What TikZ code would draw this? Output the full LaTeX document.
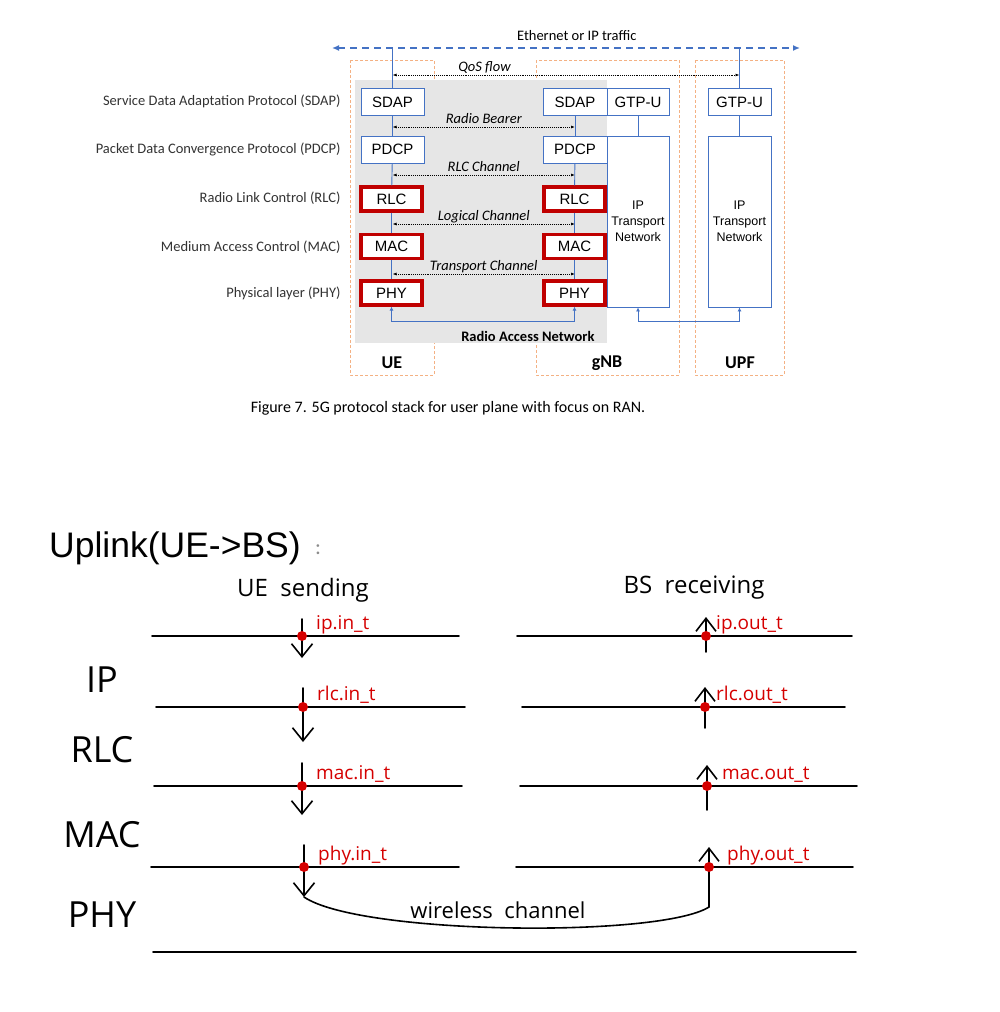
\documentclass[tikz,border=0pt]{standalone}
\usepackage{fontspec}
\setmainfont{Carlito}
\newfontfamily\arialfont{Liberation Sans}
\newfontfamily\handfont{Open Sans}
\usetikzlibrary{arrows.meta, calc}

\definecolor{msblue}{HTML}{4472C4}
\definecolor{msorange}{HTML}{F4B183}
\definecolor{msred}{HTML}{C00000}
\definecolor{ranGray}{HTML}{E6E6E6}
\definecolor{inkred}{HTML}{D50000}

\tikzset{
  layer/.style={draw=msblue, fill=white, line width=0.8pt, minimum width=63pt, minimum height=27pt, inner sep=0pt, font=\arialfont\fontsize{15}{15}\selectfont},
  redlayer/.style={layer, draw=msred, line width=3.2pt, minimum width=61pt, minimum height=24pt},
  ipnet/.style={layer, minimum width=62pt, minimum height=171pt, align=center, font=\arialfont\fontsize{12.5}{16}\selectfont},
  blueline/.style={draw=msblue, line width=0.9pt},
  ethline/.style={draw=msblue, line width=1.8pt, dash pattern=on 7pt off 5pt, {Latex[length=7pt,width=6pt]}-{Latex[length=7pt,width=6pt]}},
  chan/.style={densely dotted, line width=0.9pt, {Latex[length=4pt,width=3pt]}-{Latex[length=4pt,width=3pt]}},
  chanlab/.style={above, inner sep=1pt, text height=9pt, text depth=2pt, font=\itshape\fontsize{14.5}{17}\selectfont},
  nodebox/.style={draw=msorange, line width=1pt, dash pattern=on 3pt off 2pt},
  rowlab/.style={anchor=east, text=black!80},
  hand/.style={line width=1.6pt, line cap=round},
  handdown/.style={hand, -{Straight Barb[length=13pt, width=21pt]}},
  handup/.style={hand, -{Straight Barb[length=13pt, width=20pt]}},
  stamp/.style={circle, fill=inkred, minimum size=10pt, inner sep=0pt},
  stamplab/.style={anchor=base west, inner sep=0pt, text=inkred, font=\handfont\fontsize{19}{19}\selectfont},
  handlab/.style={font=\handfont\fontsize{24}{24}\selectfont},
  layerlab/.style={font=\handfont\fontsize{36}{36}\selectfont},
}

\begin{document}
\begin{tikzpicture}[x=1pt, y=-1pt, >=latex, font=\fontsize{14.5}{17}\selectfont]

    \fill[white] (0,0) rectangle (1000,1012);
    \useasboundingbox (0,0) rectangle (1000,1012);

    % 1. Network elements and RAN area
    \draw[nodebox] (350,60) rectangle (434,375);
    \draw[nodebox] (536,60) rectangle (679,375);
    \draw[nodebox] (695,60) rectangle (784,375);
    \fill[ranGray] (355,80) rectangle (607,343);

    % 2. Ethernet / IP traffic
    \coordinate (ethL) at (332,48);
    \coordinate (ethR) at (800,48);
    \draw[ethline] (ethL) -- (ethR) node[pos=0.523, above=3pt] {Ethernet or IP traffic};

    % 3. Protocol stacks
    \foreach \nm/\lab/\y in {Sdap/SDAP/102, Pdcp/PDCP/149.5} {
        \node[layer] (ue\nm) at (392.5,\y) {\lab};
        \node[layer, minimum width=64pt] (gnb\nm) at (575,\y) {\lab};
    }
    \foreach \nm/\lab/\y in {Rlc/RLC/199, Mac/MAC/246.5, Phy/PHY/293} {
        \node[redlayer] (ue\nm) at (391.5,\y) {\lab};
        \node[redlayer] (gnb\nm) at (574.5,\y) {\lab};
    }
    \node[layer, minimum width=62pt] (gnbGtp) at (638,102) {GTP-U};
    \node[layer] (upfGtp) at (739.5,102) {GTP-U};
    \node[ipnet] (gnbIp) at (638,221.5) {IP\\Transport\\Network};
    \node[ipnet, minimum width=63pt] (upfIp) at (739.5,221.5) {IP\\Transport\\Network};

    % vertical links
    \draw[blueline] (ueSdap.north) -- (ueSdap.north |- ethL);
    \draw[blueline] (upfGtp.north) -- (upfGtp.north |- ethL);
    \foreach \col in {ue, gnb} {
        \draw[blueline] (\col Sdap) -- (\col Pdcp);
        \draw[blueline] (\col Pdcp) -- (\col Rlc);
        \draw[blueline] (\col Rlc) -- (\col Mac);
        \draw[blueline] (\col Mac) -- (\col Phy);
    }
    \draw[blueline] (gnbGtp) -- (gnbIp);
    \draw[blueline] (upfGtp) -- (upfIp);

    % bottom links
    \draw[blueline, {Latex[length=4pt,width=4pt]}-{Latex[length=4pt,width=4pt]}] (uePhy.south) -- ++(0,15) -| (gnbPhy.south);
    \draw[blueline, {Latex[length=4pt,width=4pt]}-{Latex[length=4pt,width=4pt]}] (gnbIp.south) -- ++(0,14) -| (upfIp.south);

    % 4. Peer channels
    \draw[chan] (ueSdap.center |- 0,75) -- (upfGtp.center |- 0,75) node[chanlab, pos=0.265] {QoS flow};
    \foreach \y/\lab in {127/Radio Bearer, 175/RLC Channel, 224/Logical Channel, 274/Transport Channel} {
        \draw[chan] (ueSdap.center |- 0,\y) -- (gnbSdap.center |- 0,\y) node[chanlab, midway] {\lab};
    }

    % 5. Row and column labels
    \foreach \y/\lab [count=\i] in {101/Service Data Adaptation Protocol (SDAP), 149/Packet Data Convergence Protocol (PDCP), 198/Radio Link Control (RLC), 247/Medium Access Control (MAC), 293/Physical layer (PHY)} {
        \node[rowlab] (row\i) at (344,\y) {\lab};
    }
    \node[anchor=east, font=\bfseries\fontsize{14.5}{17}\selectfont] (ranLab) at (598,336) {Radio Access Network};
    \foreach \x/\lab in {392/UE, 607/gNB, 740/UPF} {
        \node[font=\bfseries\fontsize{18}{20}\selectfont] (col\lab) at (\x,363) {\lab};
    }
    \node[font=\fontsize{16}{18}\selectfont] (caption) at (448,408) {Figure 7. 5G protocol stack for user plane with focus on RAN.};

    % 6. Uplink sketch
    \node[anchor=base west, inner sep=0pt, font=\arialfont\fontsize{35.5}{36}\selectfont] (uplink) at (49,557) {Uplink(UE->BS)};
    \node[text=black!45, font=\fontsize{22}{22}\selectfont] (colon) at (318,550) {:};
    \node[handlab] (ueSend) at (303,590) {UE\ \ sending};
    \node[handlab] (bsRecv) at (694,588) {BS\ \ receiving};

    \foreach \y/\lab in {680/IP, 750/RLC, 835/MAC, 915/PHY} {
        \node[layerlab] (lay\lab) at (102,\y) {\lab};
    }

    % UE side (down)
    \foreach \y/\xa/\xb/\dx/\up/\dn/\nm/\lab in {
        636/152/459/302/17/22/ipIn/ip.in\_t,
        707/156/465/303/19/35/rlcIn/rlc.in\_t,
        786/154/462/302/23/29/macIn/mac.in\_t,
        867/151/459/304/22/30/phyIn/phy.in\_t} {
        \draw[hand] (\xa,\y) -- (\xb,\y);
        \coordinate (\nm) at (\dx,\y);
        \draw[handdown] (\nm) ++(0,-\up) -- ++(0,\up+\dn);
        \node[stamp] (\nm Dot) at (\nm) {};
        \node[stamplab] (\nm Lab) at (\dx+14,\y-7) {\lab};
    }

    % BS side (up)
    \foreach \y/\xa/\xb/\dx/\up/\dn/\nm/\lab/\lx in {
        636/517/852/706/19/16/ipOut/ip.out\_t/716,
        707/522/845/705/20/21/rlcOut/rlc.out\_t/716,
        786/520/857/707/21/24/macOut/mac.out\_t/722,
        867/516/853/709/20/40/phyOut/phy.out\_t/727} {
        \draw[hand] (\xa,\y) -- (\xb,\y);
        \coordinate (\nm) at (\dx,\y);
        \draw[handup] (\nm) ++(0,\dn) -- ++(0,-\up-\dn);
        \node[stamp] (\nm Dot) at (\nm) {};
        \node[stamplab] (\nm Lab) at (\lx,\y-7) {\lab};
    }

    % wireless channel
    \coordinate (airStart) at (304,897);
    \coordinate (airEnd) at (709,907);
    \draw[hand] (airStart) .. controls (360,935) and (660,938) .. (airEnd);
    \node[handlab, font=\handfont\fontsize{22}{22}\selectfont] (air) at (498,910) {wireless\ \ channel};
    \draw[hand] (153,952) -- (856,952);

\end{tikzpicture}
\end{document}
